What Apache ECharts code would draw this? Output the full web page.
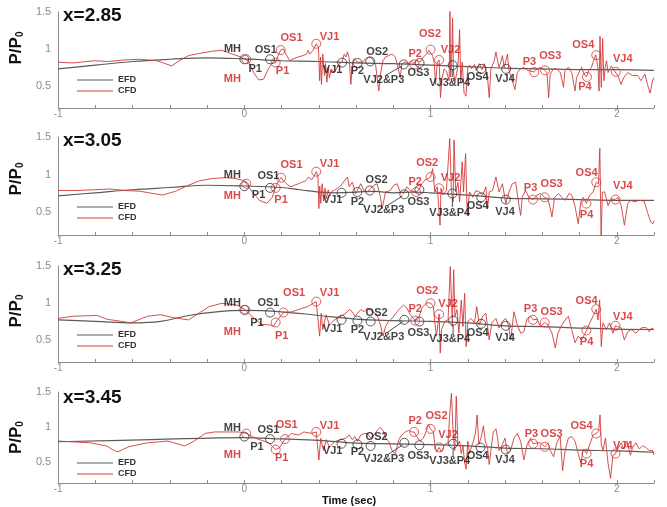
<!DOCTYPE html>
<html>
<head>
<meta charset="utf-8">
<script src="https://cdn.jsdelivr.net/npm/echarts@6/dist/echarts.min.js"></script>
<style>
  html, body { margin: 0; padding: 0; background: #fff; }
  #chart { width: 667px; height: 507px; }
</style>
</head>
<body>
<div id="chart"></div>
<script>
// Pressure ratio P/P0 versus time at four stations: EFD (measured) and CFD (computed)

// ---- x = 2.85 ----
const efd285 = [[-1,0.73],[-0.8,0.78],[-0.6,0.83],[-0.4,0.86],[-0.2,0.88],[0,0.865],[0.2,0.84],[0.4,0.83],[0.6,0.81],[0.8,0.80],[1.0,0.78],[1.2,0.76],[1.4,0.74],[1.6,0.73],[1.8,0.72],[2.0,0.72],[2.2,0.71]];
const cfd285 = [[-1.00,0.82],[-0.92,0.81],[-0.81,0.84],[-0.73,0.83],[-0.65,0.85],[-0.56,0.86],[-0.47,0.84],[-0.39,0.77],[-0.35,0.84],[-0.30,0.91],[-0.24,0.94],[-0.17,0.97],[-0.12,0.98],[-0.065,0.93],[-0.03,0.90],[0.0,0.865],[0.02,0.84],[0.05,0.68],[0.076,0.58],[0.103,0.59],[0.129,0.73],[0.147,0.80],[0.168,0.815],[0.18,0.90],[0.195,0.985],[0.209,1.0],[0.227,0.91],[0.244,0.84],[0.262,0.865],[0.289,0.89],[0.315,0.91],[0.333,0.93],[0.342,0.98],[0.351,0.93],[0.368,0.98],[0.377,1.02],[0.386,1.07],[0.398,1.02],[0.404,0.57],[0.409,0.89],[0.414,0.52],[0.421,0.93],[0.430,0.64],[0.436,0.80],[0.443,0.55],[0.450,0.75],[0.457,0.61],[0.466,0.73],[0.484,0.68],[0.501,0.77],[0.510,0.80],[0.524,0.82],[0.536,0.93],[0.545,0.89],[0.554,0.96],[0.563,0.87],[0.572,0.52],[0.581,0.82],[0.590,0.87],[0.607,0.82],[0.616,0.84],[0.634,0.82],[0.652,0.87],[0.669,0.89],[0.687,0.87],[0.705,0.78],[0.713,0.61],[0.722,0.43],[0.731,0.66],[0.744,0.84],[0.758,0.89],[0.776,0.91],[0.793,0.93],[0.811,0.89],[0.825,0.75],[0.837,0.61],[0.846,0.80],[0.864,0.82],[0.882,0.80],[0.896,0.84],[0.912,0.80],[0.926,0.85],[0.944,0.82],[0.961,0.89],[0.979,0.93],[0.991,0.98],[1.000,0.99],[1.011,0.91],[1.020,0.80],[1.027,0.52],[1.036,0.82],[1.046,0.85],[1.053,0.34],[1.062,0.61],[1.073,0.73],[1.085,0.70],[1.095,0.72],[1.100,0.57],[1.104,1.52],[1.108,0.62],[1.113,0.80],[1.118,1.42],[1.123,0.70],[1.130,0.55],[1.140,0.66],[1.148,0.80],[1.156,1.26],[1.162,0.55],[1.170,0.82],[1.180,0.40],[1.190,0.36],[1.200,0.75],[1.210,0.78],[1.220,0.73],[1.236,0.79],[1.245,0.71],[1.253,0.75],[1.262,0.80],[1.276,0.72],[1.289,0.80],[1.306,0.61],[1.315,0.34],[1.324,0.73],[1.342,0.84],[1.351,0.96],[1.360,0.84],[1.368,0.75],[1.377,0.82],[1.386,0.91],[1.395,0.75],[1.413,0.93],[1.421,0.71],[1.439,0.57],[1.453,0.45],[1.466,0.68],[1.483,0.73],[1.501,0.75],[1.519,0.71],[1.537,0.70],[1.554,0.69],[1.572,0.73],[1.590,0.75],[1.613,0.71],[1.625,0.68],[1.634,0.34],[1.643,0.66],[1.660,0.73],[1.678,0.73],[1.696,0.68],[1.705,0.59],[1.714,0.48],[1.722,0.71],[1.740,0.75],[1.758,0.68],[1.776,0.43],[1.784,0.61],[1.797,0.68],[1.811,0.75],[1.825,0.66],[1.837,0.62],[1.850,0.71],[1.864,0.75],[1.873,0.82],[1.887,0.92],[1.899,0.75],[1.905,0.43],[1.910,1.17],[1.917,0.48],[1.924,1.14],[1.931,0.57],[1.938,0.75],[1.945,0.84],[1.953,0.68],[1.970,0.77],[1.991,0.69],[2.006,0.64],[2.023,0.52],[2.037,0.61],[2.059,0.68],[2.085,0.64],[2.112,0.64],[2.130,0.57],[2.151,0.66],[2.165,0.52],[2.179,0.40],[2.192,0.57],[2.200,0.61]];
const efdMark285 = [[0,0.86],[0.138,0.86],[0.525,0.815],[0.608,0.81],[0.676,0.83],[0.856,0.79],[0.941,0.81],[1.119,0.78],[1.273,0.73],[1.406,0.73]];
const cfdMark285 = [[0.01,0.86],[0.168,0.815],[0.195,0.985],[0.386,1.07],[0.913,0.79],[1.0,0.99],[1.046,0.85],[1.557,0.685],[1.615,0.71],[1.84,0.62],[1.89,0.915],[1.995,0.69]];
const efdNote285 = [['MH',-0.064,1.0],['OS1',0.115,0.99],['P1',0.058,0.73],['VJ1',0.474,0.72],['P2',0.607,0.705],['OS2',0.713,0.956],['VJ2&P3',0.749,0.58],['OS3',0.935,0.68],['VJ3&P4',1.103,0.545],['OS4',1.253,0.62],['VJ4',1.40,0.59]];
const cfdNote285 = [['MH',-0.065,0.59],['P1',0.205,0.705],['OS1',0.253,1.15],['VJ1',0.457,1.16],['P2',0.917,0.93],['OS2',0.997,1.2],['VJ2',1.107,0.98],['P3',1.531,0.83],['OS3',1.643,0.90],['OS4',1.82,1.06],['VJ4',2.032,0.87],['P4',1.829,0.48]];
const leader285 = [[[0.758,0.64],[0.846,0.77]],[[1.119,0.73],[1.119,0.62]]];

// ---- x = 3.05 ----
const efd305 = [[-1,0.72],[-0.8,0.76],[-0.6,0.80],[-0.4,0.83],[-0.2,0.86],[0,0.85],[0.2,0.83],[0.3,0.80],[0.4,0.77],[0.5,0.76],[0.6,0.77],[0.7,0.78],[0.8,0.76],[0.9,0.77],[1.0,0.76],[1.2,0.73],[1.4,0.69],[1.6,0.68],[1.8,0.67],[2.0,0.66],[2.2,0.66]];
const cfd305 = [[-1,0.79],[-0.9,0.79],[-0.81,0.80],[-0.72,0.81],[-0.64,0.79],[-0.56,0.78],[-0.49,0.75],[-0.44,0.73],[-0.37,0.78],[-0.30,0.86],[-0.24,0.92],[-0.17,0.95],[-0.10,0.96],[-0.05,0.95],[0.0,0.92],[0.01,0.88],[0.04,0.78],[0.08,0.66],[0.12,0.62],[0.15,0.70],[0.168,0.825],[0.18,0.90],[0.197,0.96],[0.21,0.92],[0.23,0.87],[0.25,0.84],[0.27,0.86],[0.29,0.88],[0.31,0.90],[0.33,0.92],[0.345,0.97],[0.36,0.93],[0.375,0.98],[0.386,1.04],[0.395,0.98],[0.40,0.55],[0.405,0.85],[0.41,0.62],[0.418,0.88],[0.425,0.65],[0.433,0.82],[0.44,0.68],[0.45,0.80],[0.46,0.72],[0.47,0.78],[0.483,0.79],[0.519,0.86],[0.554,0.97],[0.563,0.84],[0.58,0.90],[0.598,0.75],[0.607,0.77],[0.625,0.88],[0.642,0.79],[0.660,0.77],[0.678,0.82],[0.696,0.86],[0.713,0.88],[0.731,0.70],[0.740,0.55],[0.758,0.77],[0.784,0.79],[0.802,0.86],[0.820,0.88],[0.837,0.77],[0.855,0.75],[0.873,0.84],[0.891,0.79],[0.917,0.77],[0.935,0.79],[0.953,0.88],[0.970,0.93],[0.988,0.95],[1.0,0.97],[1.011,1.08],[1.023,0.77],[1.036,0.84],[1.046,0.82],[1.051,0.33],[1.056,0.82],[1.067,0.73],[1.085,0.79],[1.103,1.48],[1.112,0.77],[1.121,0.64],[1.126,1.46],[1.135,0.77],[1.147,0.90],[1.156,0.64],[1.170,1.17],[1.177,0.77],[1.188,1.28],[1.197,0.46],[1.209,0.77],[1.227,0.70],[1.244,0.79],[1.262,0.77],[1.280,0.73],[1.297,0.84],[1.306,0.55],[1.315,0.77],[1.333,0.79],[1.351,0.97],[1.368,0.77],[1.386,0.88],[1.404,0.62],[1.421,0.77],[1.439,0.88],[1.457,0.90],[1.475,0.59],[1.484,0.46],[1.492,0.70],[1.51,0.79],[1.528,0.70],[1.55,0.67],[1.572,0.73],[1.59,0.75],[1.613,0.70],[1.63,0.68],[1.643,0.55],[1.652,0.44],[1.666,0.70],[1.687,0.75],[1.705,0.70],[1.723,0.66],[1.744,0.75],[1.758,0.73],[1.775,0.59],[1.793,0.35],[1.807,0.64],[1.82,0.70],[1.837,0.62],[1.855,0.73],[1.873,0.77],[1.89,0.90],[1.902,0.88],[1.909,1.35],[1.916,0.19],[1.923,0.77],[1.935,0.77],[1.953,0.59],[1.97,0.68],[1.993,0.67],[2.006,0.70],[2.024,0.59],[2.041,0.33],[2.059,0.62],[2.077,0.66],[2.094,0.64],[2.121,0.66],[2.147,0.65],[2.165,0.50],[2.183,0.37],[2.195,0.35],[2.2,0.39]];
const efdMark305 = [[0,0.847],[0.138,0.825],[0.522,0.76],[0.607,0.77],[0.674,0.79],[0.859,0.74],[0.94,0.80],[1.117,0.75],[1.272,0.70],[1.404,0.67]];
const cfdMark305 = [[0.01,0.88],[0.168,0.825],[0.197,0.96],[0.386,1.04],[0.922,0.77],[1.0,0.97],[1.046,0.82],[1.55,0.67],[1.613,0.70],[1.837,0.616],[1.89,0.90],[1.993,0.67]];
const efdNote305 = [['MH',-0.065,0.99],['OS1',0.129,0.98],['P1',0.076,0.73],['VJ1',0.474,0.66],['P2',0.607,0.64],['OS2',0.71,0.93],['VJ2&P3',0.749,0.53],['OS3',0.935,0.64],['VJ3&P4',1.103,0.49],['OS4',1.253,0.585],['VJ4',1.40,0.50]];
const cfdNote305 = [['MH',-0.065,0.72],['P1',0.197,0.66],['OS1',0.253,1.13],['VJ1',0.457,1.14],['P2',0.917,0.90],['OS2',0.982,1.16],['VJ2',1.107,0.96],['P3',1.537,0.82],['OS3',1.65,0.88],['OS4',1.838,1.02],['VJ4',2.032,0.85],['P4',1.838,0.47]];
const leader305 = [[[0.767,0.59],[0.85,0.72]],[[1.117,0.69],[1.117,0.57]]];

// ---- x = 3.25 ----
const efd325 = [[-1,0.77],[-0.8,0.75],[-0.6,0.73],[-0.45,0.75],[-0.3,0.83],[-0.15,0.88],[0,0.90],[0.2,0.88],[0.4,0.83],[0.6,0.78],[0.8,0.76],[1.0,0.75],[1.2,0.73],[1.4,0.69],[1.6,0.68],[1.8,0.66],[2.0,0.645],[2.2,0.64]];
const cfd325 = [[-1,0.79],[-0.92,0.82],[-0.79,0.83],[-0.74,0.78],[-0.66,0.75],[-0.61,0.73],[-0.52,0.82],[-0.45,0.84],[-0.38,0.80],[-0.30,0.77],[-0.19,0.95],[-0.12,0.995],[-0.04,0.97],[0.0,0.915],[0.04,0.82],[0.09,0.71],[0.14,0.70],[0.155,0.68],[0.168,0.735],[0.21,0.87],[0.255,0.88],[0.29,0.91],[0.34,0.95],[0.386,1.018],[0.395,1.0],[0.404,0.55],[0.413,0.86],[0.421,0.64],[0.439,0.84],[0.457,0.70],[0.483,0.77],[0.519,0.82],[0.545,0.86],[0.563,0.91],[0.580,0.88],[0.593,0.82],[0.607,0.86],[0.625,0.91],[0.642,0.88],[0.660,0.93],[0.713,0.84],[0.731,0.70],[0.745,0.55],[0.758,0.68],[0.775,0.75],[0.793,0.79],[0.820,0.88],[0.837,0.93],[0.855,0.97],[0.873,0.93],[0.891,0.84],[0.917,0.76],[0.935,0.79],[0.953,0.93],[0.979,1.0],[1.0,1.0],[1.015,0.95],[1.023,0.73],[1.032,0.55],[1.046,0.85],[1.052,0.32],[1.059,0.64],[1.076,0.75],[1.094,0.77],[1.106,1.49],[1.117,0.68],[1.124,1.45],[1.131,0.82],[1.142,0.91],[1.152,0.59],[1.165,1.04],[1.174,0.68],[1.183,1.13],[1.191,0.41],[1.2,0.75],[1.218,0.79],[1.236,0.73],[1.248,0.95],[1.262,0.70],[1.28,0.82],[1.297,0.86],[1.315,0.50],[1.329,0.73],[1.351,0.79],[1.368,0.66],[1.386,0.75],[1.404,0.79],[1.418,0.70],[1.43,0.50],[1.448,0.88],[1.466,0.70],[1.484,0.59],[1.501,0.61],[1.519,0.79],[1.537,0.82],[1.551,0.771],[1.572,0.78],[1.59,0.68],[1.613,0.735],[1.631,0.70],[1.652,0.59],[1.670,0.39],[1.684,0.59],[1.705,0.70],[1.723,0.77],[1.740,0.82],[1.758,0.64],[1.776,0.46],[1.793,0.55],[1.811,0.50],[1.838,0.627],[1.855,0.73],[1.873,0.82],[1.89,0.915],[1.899,0.77],[1.908,1.04],[1.917,0.41],[1.926,0.73],[1.944,0.64],[1.961,0.73],[1.979,0.59],[1.993,0.69],[2.024,0.66],[2.041,0.50],[2.059,0.61],[2.077,0.64],[2.103,0.59],[2.13,0.66],[2.156,0.67],[2.174,0.61],[2.186,0.66],[2.2,0.64]];
const efdMark325 = [[0,0.906],[0.138,0.87],[0.522,0.771],[0.607,0.76],[0.678,0.748],[0.859,0.771],[0.94,0.748],[1.121,0.76],[1.272,0.717],[1.404,0.69]];
const cfdMark325 = [[0.005,0.906],[0.168,0.735],[0.21,0.87],[0.386,1.018],[0.917,0.76],[1.0,0.996],[1.046,0.847],[1.55,0.771],[1.613,0.735],[1.837,0.627],[1.89,0.915],[1.993,0.69]];
const efdNote325 = [['MH',-0.065,1.005],['OS1',0.129,0.996],['P1',0.067,0.735],['VJ1',0.474,0.65],['P2',0.607,0.636],['OS2',0.71,0.87],['VJ2&P3',0.749,0.537],['OS3',0.935,0.59],['VJ3&P4',1.103,0.51],['OS4',1.253,0.59],['VJ4',1.40,0.52]];
const cfdNote325 = [['MH',-0.065,0.613],['P1',0.2,0.555],['OS1',0.267,1.14],['VJ1',0.457,1.14],['P2',0.917,0.915],['OS2',0.982,1.167],['VJ2',1.094,0.987],['P3',1.537,0.915],['OS3',1.65,0.883],['OS4',1.838,1.032],['VJ4',2.032,0.816],['P4',1.838,0.478]];
const leader325 = [[[0.767,0.60],[0.85,0.745]],[[1.121,0.70],[1.121,0.58]]];

// ---- x = 3.45 ----
const efd345 = [[-1,0.79],[-0.5,0.82],[0,0.85],[0.2,0.83],[0.4,0.81],[0.6,0.77],[0.8,0.76],[1.0,0.75],[1.2,0.73],[1.4,0.70],[1.6,0.69],[1.8,0.67],[2.0,0.66],[2.2,0.64]];
const cfd345 = [[-1,0.80],[-0.83,0.775],[-0.74,0.73],[-0.70,0.665],[-0.68,0.645],[-0.62,0.72],[-0.52,0.775],[-0.41,0.80],[-0.32,0.73],[-0.27,0.80],[-0.21,0.91],[-0.16,0.93],[-0.09,0.93],[-0.03,0.93],[0.01,0.91],[0.06,0.84],[0.13,0.775],[0.168,0.678],[0.19,0.71],[0.218,0.828],[0.253,0.908],[0.29,0.886],[0.32,0.93],[0.36,0.91],[0.386,0.93],[0.395,0.91],[0.40,0.53],[0.41,0.84],[0.425,0.665],[0.44,0.82],[0.457,0.71],[0.483,0.79],[0.519,0.82],[0.545,0.84],[0.563,0.886],[0.58,0.82],[0.593,0.864],[0.607,0.797],[0.625,0.886],[0.642,0.908],[0.66,0.908],[0.678,0.842],[0.696,0.886],[0.713,0.952],[0.731,0.996],[0.74,1.018],[0.749,0.93],[0.758,0.842],[0.775,0.797],[0.793,0.665],[0.811,0.621],[0.829,0.82],[0.846,0.886],[0.864,0.93],[0.882,0.952],[0.899,0.93],[0.912,0.93],[0.926,0.864],[0.944,0.797],[0.961,0.842],[0.979,0.952],[0.988,1.04],[1.0,0.974],[1.015,0.93],[1.023,0.753],[1.032,0.643],[1.046,0.709],[1.059,0.643],[1.076,0.753],[1.094,0.775],[1.103,1.195],[1.112,1.482],[1.121,0.93],[1.13,0.665],[1.138,1.438],[1.147,0.753],[1.156,0.797],[1.165,0.621],[1.174,0.731],[1.183,0.488],[1.191,0.399],[1.2,0.797],[1.209,0.621],[1.227,0.775],[1.241,0.908],[1.25,1.173],[1.259,0.753],[1.271,0.842],[1.284,1.018],[1.294,0.797],[1.306,0.709],[1.315,0.466],[1.324,0.665],[1.337,0.93],[1.351,0.974],[1.36,0.842],[1.368,0.665],[1.386,0.753],[1.40,0.842],[1.413,0.621],[1.43,0.665],[1.448,0.842],[1.466,0.908],[1.484,0.797],[1.501,0.532],[1.519,0.753],[1.537,0.842],[1.551,0.762],[1.572,0.775],[1.59,0.775],[1.613,0.718],[1.631,0.775],[1.643,0.665],[1.661,0.576],[1.678,0.775],[1.696,0.864],[1.709,0.377],[1.723,0.665],[1.74,0.842],[1.758,0.864],[1.776,0.797],[1.793,0.621],[1.807,0.488],[1.82,0.687],[1.838,0.621],[1.855,0.753],[1.873,0.886],[1.89,0.908],[1.903,0.952],[1.91,1.173],[1.917,0.753],[1.926,0.665],[1.939,0.842],[1.953,0.488],[1.967,0.267],[1.979,0.598],[1.993,0.621],[2.009,0.709],[2.024,0.775],[2.038,0.687],[2.055,0.797],[2.073,0.598],[2.085,0.709],[2.103,0.775],[2.121,0.687],[2.139,0.731],[2.156,0.709],[2.174,0.665],[2.192,0.665],[2.2,0.60]];
const efdMark345 = [[0,0.864],[0.138,0.828],[0.522,0.762],[0.607,0.753],[0.678,0.731],[0.859,0.775],[0.94,0.74],[1.121,0.762],[1.268,0.709],[1.404,0.678]];
const cfdMark345 = [[0.01,0.908],[0.168,0.678],[0.218,0.828],[0.386,0.93],[0.912,0.93],[1.0,0.974],[1.046,0.709],[1.551,0.762],[1.613,0.718],[1.838,0.621],[1.89,0.908],[1.993,0.621]];
const efdNote345 = [['MH',-0.065,0.983],['OS1',0.129,0.965],['P1',0.067,0.718],['VJ1',0.474,0.665],['P2',0.607,0.643],['OS2',0.71,0.864],['VJ2&P3',0.749,0.541],['OS3',0.935,0.585],['VJ3&P4',1.103,0.51],['OS4',1.253,0.585],['VJ4',1.40,0.532]];
const cfdNote345 = [['MH',-0.065,0.598],['P1',0.2,0.554],['OS1',0.227,1.027],['VJ1',0.457,1.018],['P2',0.917,1.085],['OS2',1.032,1.16],['VJ2',1.094,0.886],['P3',1.542,0.908],['OS3',1.65,0.908],['OS4',1.811,1.018],['VJ4',2.032,0.731],['P4',1.838,0.479]];
const leader345 = [[[0.767,0.60],[0.85,0.745]],[[1.121,0.70],[1.121,0.58]]];

// axis ticks
const yTickValues = [0.5, 1, 1.5];
const stationTitles = ['x=2.85', 'x=3.05', 'x=3.25', 'x=3.45'];

const panels = [
  { efd: efd285, cfd: cfd285, efdMarks: efdMark285, cfdMarks: cfdMark285, efdNotes: efdNote285, cfdNotes: cfdNote285, leaders: leader285 },
  { efd: efd305, cfd: cfd305, efdMarks: efdMark305, cfdMarks: cfdMark305, efdNotes: efdNote305, cfdNotes: cfdNote305, leaders: leader305 },
  { efd: efd325, cfd: cfd325, efdMarks: efdMark325, cfdMarks: cfdMark325, efdNotes: efdNote325, cfdNotes: cfdNote325, leaders: leader325 },
  { efd: efd345, cfd: cfd345, efdMarks: efdMark345, cfdMarks: cfdMark345, efdNotes: efdNote345, cfdNotes: cfdNote345, leaders: leader345 }
];

// panel geometry (pixels)
const frames = [
  { top: 12,  height: 96, titleTop: 6,   legendTop: 75,  nameShift: 24 },
  { top: 137, height: 98, titleTop: 131, legendTop: 202, nameShift: 14 },
  { top: 266, height: 96, titleTop: 260, legendTop: 330, nameShift: 6 },
  { top: 392, height: 98, titleTop: 388, legendTop: 458, nameShift: 0 }
];

const FONT = '"Liberation Sans", Arial, sans-serif';
const RED = '#d23a3a';
const RED_TEXT = '#d01c1c';
const EFD_COLOR = '#5b5b5b';
const AXIS_GRAY = '#8c8c8c';

const grid = [], xAxis = [], yAxis = [], series = [], title = [], legend = [];

panels.forEach((p, i) => {
  const f = frames[i];
  grid.push({ left: 52, right: 13, top: f.top, height: f.height });
  title.push({
    text: stationTitles[i], left: 63, top: f.titleTop, padding: 0,
    textStyle: { fontSize: 19, fontWeight: 'bold', color: '#111', fontFamily: FONT }
  });
  legend.push({
    data: ['EFD', 'CFD'], left: 77, top: f.legendTop, orient: 'vertical',
    padding: 0, icon: 'rect', itemWidth: 36, itemHeight: 1.2, itemGap: 1, selectedMode: false,
    textStyle: { fontSize: 9, fontWeight: 'bold', color: '#333', fontFamily: FONT, lineHeight: 10 }
  });
  xAxis.push({
    gridIndex: i, type: 'value', min: -1, max: 2.2, interval: 0.2,
    axisLine: { onZero: false, lineStyle: { color: AXIS_GRAY, width: 1 } },
    axisTick: { inside: true, length: 3, lineStyle: { color: AXIS_GRAY } },
    axisLabel: {
      margin: 1, fontSize: 10, color: AXIS_GRAY, fontFamily: FONT,
      formatter: v => (Math.abs(v - Math.round(v)) < 1e-6 ? String(Math.round(v)) : '')
    },
    splitLine: { show: false },
    name: i === 3 ? 'Time (sec)' : '',
    nameLocation: 'middle', nameGap: 2,
    nameTextStyle: { fontSize: 11, fontWeight: 'bold', color: '#111', fontFamily: FONT, padding: [0, 14, 0, 0] }
  });
  yAxis.push({
    gridIndex: i, type: 'value', min: 0.2, max: 1.5,
    axisLine: { show: true, onZero: false, lineStyle: { color: AXIS_GRAY, width: 1 } },
    axisTick: { show: false },
    axisLabel: { customValues: yTickValues, margin: 7, fontSize: 11, color: AXIS_GRAY, fontFamily: FONT },
    splitLine: { show: false },
    name: 'P/P{s|0}', nameLocation: 'middle', nameRotate: 90, nameGap: 22,
    nameTextStyle: {
      fontSize: 17, fontWeight: 'bold', color: '#111', fontFamily: FONT,
      padding: [0, 0, 0, f.nameShift],
      rich: { s: { fontSize: 10, fontWeight: 'bold', color: '#111', fontFamily: FONT, verticalAlign: 'bottom', padding: [6, 0, 0, 0] } }
    }
  });

  series.push({
    type: 'line', name: 'EFD', xAxisIndex: i, yAxisIndex: i, data: p.efd,
    symbol: 'none', smooth: 0.4, lineStyle: { color: EFD_COLOR, width: 1.2 }, itemStyle: { color: EFD_COLOR },
    silent: true, z: 2
  });
  series.push({
    type: 'line', name: 'CFD', xAxisIndex: i, yAxisIndex: i, data: p.cfd,
    symbol: 'none', lineStyle: { color: RED, width: 0.9 }, itemStyle: { color: RED },
    silent: true, z: 3
  });
  p.leaders.forEach(seg => {
    series.push({
      type: 'line', xAxisIndex: i, yAxisIndex: i, data: seg, symbol: 'none',
      lineStyle: { color: '#222', width: 0.8 }, silent: true, z: 4
    });
  });
  series.push({
    type: 'scatter', xAxisIndex: i, yAxisIndex: i, data: p.efdMarks,
    symbol: 'circle', symbolSize: 9,
    itemStyle: { color: 'rgba(255,255,255,0)', borderColor: '#333', borderWidth: 1 },
    silent: true, z: 5
  });
  series.push({
    type: 'scatter', xAxisIndex: i, yAxisIndex: i, data: p.cfdMarks,
    symbol: 'circle', symbolSize: 9,
    itemStyle: { color: 'rgba(255,255,255,0)', borderColor: RED, borderWidth: 1 },
    silent: true, z: 5
  });
  [[p.efdNotes, '#111'], [p.cfdNotes, RED_TEXT]].forEach(([notes, color]) => {
    series.push({
      type: 'scatter', xAxisIndex: i, yAxisIndex: i,
      data: notes.map(n => ({ name: n[0], value: [n[1], n[2]] })),
      symbol: 'circle', symbolSize: 1, itemStyle: { color: 'rgba(0,0,0,0)' },
      label: { show: true, position: 'inside', formatter: '{b}', fontSize: 11, fontWeight: 'bold', color: color, fontFamily: FONT },
      silent: true, z: 6
    });
  });
});

const chart = echarts.init(document.getElementById('chart'), null, { renderer: 'canvas' });
chart.setOption({
  animation: false,
  backgroundColor: '#fff',
  textStyle: { fontFamily: FONT },
  title, legend, grid, xAxis, yAxis, series
});
</script>
</body>
</html>
